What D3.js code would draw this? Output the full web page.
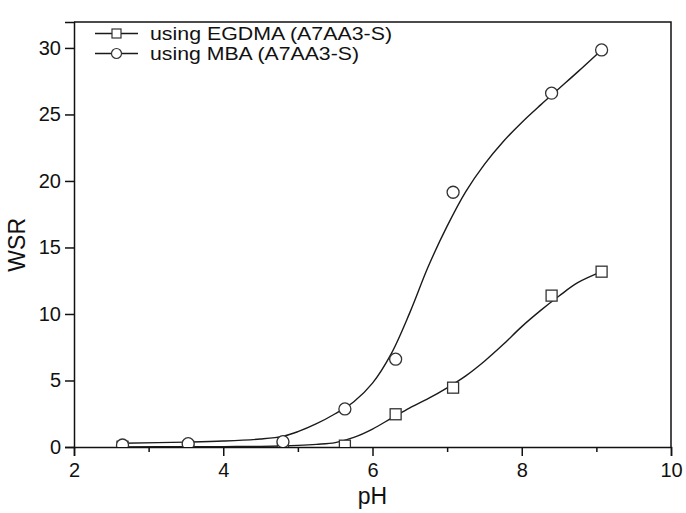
<!DOCTYPE html>
<html>
<head>
<meta charset="utf-8">
<script src="https://cdn.jsdelivr.net/npm/d3@7"></script>
<style>
  body { margin: 0; background: #fff; }
  text { font-family: "Liberation Sans", Arial, sans-serif; fill: #111; }
</style>
</head>
<body>
<script>
// measured points
var pH = [2.65, 3.53, 4.8, 5.63, 6.31, 7.08, 8.4, 9.07];
var egdma = [0.02, 0.02, 0.03, 0.1, 2.46, 4.46, 11.38, 13.18];
var mba = [0.15, 0.25, 0.4, 2.86, 6.6, 19.15, 26.6, 29.85];

// fitted curves
var fitX = [2.65, 3.5, 4.0, 4.5, 4.8, 5.0, 5.25, 5.5, 5.75, 6.0, 6.25, 6.5, 6.75, 7.0, 7.25, 7.5, 7.75, 8.0, 8.25, 8.5, 8.75, 9.07];
var fitY_egdma = [0.01, 0.02, 0.03, 0.05, 0.08, 0.12, 0.2, 0.33, 0.72, 1.35, 2.15, 2.95, 3.65, 4.45, 5.35, 6.45, 7.7, 9.05, 10.25, 11.35, 12.35, 13.18];
var fitY_mba = [0.28, 0.37, 0.45, 0.6, 0.8, 1.15, 1.75, 2.5, 3.4, 4.8, 7.0, 10.1, 13.6, 16.6, 19.2, 21.25, 22.95, 24.4, 25.7, 26.95, 28.2, 29.85];

var xTicks = [2, 4, 6, 8, 10];
var xMinor = [3, 5, 7, 9];
var yTicks = [0, 5, 10, 15, 20, 25, 30];

var W = 686, H = 513;
var margin = {top: 22, right: 15, bottom: 66, left: 74};

var svg = d3.select("body").append("svg")
  .attr("width", W).attr("height", H);

var x = d3.scaleLinear().domain([2, 10]).range([margin.left, W - margin.right]);
var y = d3.scaleLinear().domain([0, 31.95]).range([H - margin.bottom, margin.top]);

svg.append("defs").append("clipPath").attr("id", "plot")
  .append("rect")
  .attr("x", margin.left).attr("y", margin.top)
  .attr("width", W - margin.left - margin.right)
  .attr("height", H - margin.top - margin.bottom);

// frame (top + right)
svg.append("path")
  .attr("d", "M" + x(2) + "," + y(31.95) + "H" + x(10) + "V" + y(0))
  .attr("fill", "none").attr("stroke", "#111").attr("stroke-width", 1.5);

// axes
var xAxis = svg.append("g")
  .attr("transform", "translate(0," + y(0) + ")")
  .call(d3.axisBottom(x).tickValues(xTicks).tickSize(9).tickPadding(5).tickFormat(d3.format("d")));
svg.append("g")
  .attr("transform", "translate(0," + y(0) + ")")
  .call(d3.axisBottom(x).tickValues(xMinor).tickSize(5).tickFormat(""))
  .call(function(g) { g.select(".domain").remove(); });
var yAxis = svg.append("g")
  .attr("transform", "translate(" + x(2) + ",0)")
  .call(d3.axisLeft(y).tickValues(yTicks).tickSize(9).tickPadding(4).tickFormat(d3.format("d")));

svg.selectAll(".domain").attr("stroke", "#111").attr("stroke-width", 1.5);
svg.selectAll(".tick line").attr("stroke", "#111").attr("stroke-width", 1.5);
svg.selectAll(".tick text").style("font-size", "20px").attr("fill", "#111")
  .style("font-family", "'Liberation Sans', Arial, sans-serif");
xAxis.selectAll(".tick text").attr("dy", "0.8em");

// axis titles
svg.append("text")
  .attr("x", (x(2) + x(10)) / 2).attr("y", 504)
  .attr("text-anchor", "middle").style("font-size", "23px").text("pH");
svg.append("text")
  .attr("transform", "translate(25," + y(15.2) + ") rotate(-90)")
  .attr("text-anchor", "middle").style("font-size", "23px").text("WSR");

// curves
var line = d3.line()
  .x(function(d) { return x(d[0]); })
  .y(function(d) { return y(d[1]); })
  .curve(d3.curveCatmullRom.alpha(0.5));

var plot = svg.append("g").attr("clip-path", "url(#plot)");

plot.append("path")
  .datum(d3.zip(fitX, fitY_egdma))
  .attr("d", line)
  .attr("fill", "none").attr("stroke", "#1a1a1a").attr("stroke-width", 1.4);
plot.append("path")
  .datum(d3.zip(fitX, fitY_mba))
  .attr("d", line)
  .attr("fill", "none").attr("stroke", "#1a1a1a").attr("stroke-width", 1.4);

// markers
var s = 11;
plot.selectAll("rect.sq")
  .data(d3.zip(pH, egdma))
  .enter().append("rect")
  .attr("class", "sq")
  .attr("x", function(d) { return x(d[0]) - s / 2; })
  .attr("y", function(d) { return y(d[1]) - s / 2; })
  .attr("width", s).attr("height", s)
  .attr("fill", "#fff").attr("stroke", "#333").attr("stroke-width", 1.3);

plot.selectAll("circle.ci")
  .data(d3.zip(pH, mba))
  .enter().append("circle")
  .attr("class", "ci")
  .attr("cx", function(d) { return x(d[0]); })
  .attr("cy", function(d) { return y(d[1]); })
  .attr("r", 6)
  .attr("fill", "#fff").attr("stroke", "#333").attr("stroke-width", 1.3);

// legend
var legend = [
  {label: "using EGDMA (A7AA3-S)", shape: "square", len: 242},
  {label: "using MBA (A7AA3-S)", shape: "circle", len: 209}
];
var lg = svg.append("g");
legend.forEach(function(d, i) {
  var ly = 33.5 + i * 20;
  lg.append("line")
    .attr("x1", 95).attr("x2", 138).attr("y1", ly).attr("y2", ly)
    .attr("stroke", "#1a1a1a").attr("stroke-width", 1.3);
  if (d.shape === "square") {
    lg.append("rect")
      .attr("x", 116.5 - 4.5).attr("y", ly - 4.5).attr("width", 9).attr("height", 9)
      .attr("fill", "#fff").attr("stroke", "#333").attr("stroke-width", 1.2);
  } else {
    lg.append("circle")
      .attr("cx", 116.5).attr("cy", ly).attr("r", 5)
      .attr("fill", "#fff").attr("stroke", "#333").attr("stroke-width", 1.2);
  }
  lg.append("text")
    .attr("x", 150).attr("y", ly).attr("dy", "0.37em")
    .attr("textLength", d.len).attr("lengthAdjust", "spacingAndGlyphs")
    .style("font-size", "18px").text(d.label);
});
</script>
</body>
</html>
